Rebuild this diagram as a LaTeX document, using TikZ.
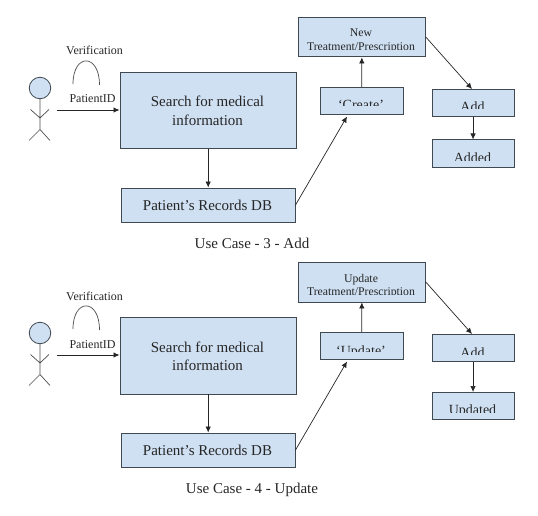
\documentclass[tikz,border=0pt]{standalone}
\usepackage{fontspec}
\setmainfont{Liberation Serif}
\usetikzlibrary{arrows.meta}
\definecolor{boxblue}{HTML}{CFE0F2}
\definecolor{edgegray}{HTML}{404850}
\tikzset{
  x=1pt,y=-1pt,
  bx/.style={draw=edgegray,line width=0.9pt,fill=boxblue,inner sep=0pt,rectangle},
  lbl/.style={inner sep=0pt,text=black!85,font=\fontsize{#1}{#1}\selectfont,anchor=base},
  lbl/.default=11.5,
  con/.style={draw=black!85,line width=0.7pt,-{Latex[length=6pt,width=5.5pt]},shorten >=0pt},
  thin line/.style={draw=black!70,line width=0.7pt}
}
% #1 x0, #2 y0, #3 x1, #4 y1, #5 name
\newcommand{\boxat}[5]{\node[bx,minimum width=#3pt-#1pt,minimum height=(#4pt)-(#2pt),anchor=north west] (#5) at (#1,#2) {};}
% #1 centre x, #2 baseline y, #3 clip bottom y, #4 name, #5 size, #6 text
\newcommand{\cliplabel}[6]{\begin{scope}\clip (#1-70,#2-20) rectangle (#1+70,#3);\node[lbl=#5] (#4) at (#1,#2) {#6};\end{scope}}
% #1 first line of the top box, #2 middle box text, #3 caption, #4 last box text, #5 y shift of last box, #6 caption x
\newcommand{\usecase}[6]{
  \coordinate (head) at (40,88);
  \node[circle,draw=edgegray,line width=0.8pt,fill=boxblue,minimum size=21.5pt,inner sep=0pt] (hd) at (head) {};
  \coordinate (hip) at (40,129.5);
  \coordinate (armjoin) at (40,118);
  \coordinate (handl) at (30.5,109.5);
  \coordinate (handr) at (49,109.5);
  \coordinate (footl) at (29,140.5);
  \coordinate (footr) at (50,140.5);
  \draw[thin line] (hd.south) -- (hip) (handl) -- (armjoin) -- (handr) (footl) -- (hip) -- (footr);
  \coordinate (arcl) at (73,84);
  \coordinate (arcr) at (99.5,85);
  \draw[thin line] (arcl) .. controls (73,53) and (99.5,53) .. (arcr);
  \node[lbl=12] (ver) at (94.5,55) {Verification};
  \node[lbl=12] (pid) at (92.5,103) {PatientID};
  \coordinate (src) at (56.5,110);
  \boxat{119.5}{72}{296}{148.5}{main}
  \node[lbl=15] (m1) at (207.5,107) {Search for medical};
  \node[lbl=15] (m2) at (207.5,125) {information};
  \boxat{121}{187.5}{294.5}{222}{db}
  \node[lbl=15] (dbt) at (207.5,210) {Patient’s Records DB};
  \boxat{297.5}{17.3}{425.3}{56.5}{top}
  \node[lbl=11.75] (t1) at (361,37) {#1};
  \cliplabel{361}{50.5}{49.3}{t2}{11.75}{Treatment/Prescription}
  \boxat{320}{87}{402.5}{114}{mid}
  \cliplabel{361}{110}{106}{mt}{14}{#2}
  \boxat{431.5}{89}{513.7}{116}{add}
  \cliplabel{472.5}{112}{109}{at}{14}{Add}
  \boxat{431.5}{139.5+#5}{513.7}{166.5+#5}{last}
  \cliplabel{472.5}{162+#5}{160+#5}{lt}{14}{#4}
  \node[lbl=15] (cap) at (#6,248) {#3};
  \draw[con] (src) -- (main.west |- src);
  \draw[con] (main.south) -- (db.north);
  \coordinate (midin) at (347,116.5);
  \draw[con] (db.east) -- (midin);
  \draw[con] (mid.north) -- (top.south);
  \coordinate (topout) at (425.8,37);
  \coordinate (addin) at (472,89);
  \draw[con] (topout) -- (addin);
  \draw[con] (add.south) -- (last.north);
}
\begin{document}
\begin{tikzpicture}
\useasboundingbox (0,0) rectangle (538,516);
\begin{scope}[name prefix=a-]
  \usecase{New}{‘Create’}{Use Case - 3 - Add}{Added}{0}{252}
\end{scope}
\begin{scope}[name prefix=b-,yshift=-245pt]
  \usecase{Update}{‘Update’}{Use Case - 4 - Update}{Updated}{7.5}{252}
\end{scope}
\end{tikzpicture}
\end{document}
